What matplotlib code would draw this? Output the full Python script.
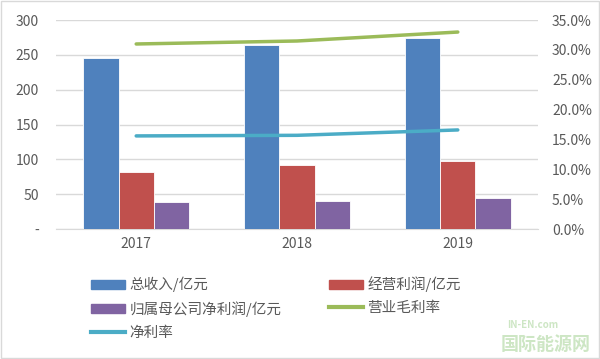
import numpy as np
import matplotlib

matplotlib.use('Agg')
import matplotlib.pyplot as plt
from matplotlib.patches import Patch
from matplotlib.lines import Line2D

plt.rcParams['font.family'] = ['Noto Sans CJK SC', 'DejaVu Sans']

years = ['2017', '2018', '2019']
revenue = [245, 264, 275]          # 总收入/亿元
op_profit = [82, 92, 98]           # 经营利润/亿元
net_profit = [39, 40, 45]          # 归属母公司净利润/亿元
gross_margin = [31.0, 31.5, 33.0]  # 营业毛利率 (%)
net_margin = [15.6, 15.7, 16.6]    # 净利率 (%)

labels = ['总收入/亿元', '经营利润/亿元', '归属母公司净利润/亿元', '营业毛利率', '净利率']
colors = ['#4F81BD', '#C0504D', '#8064A2', '#9BBB59', '#4BACC6']
txt = '#595959'

fig = plt.figure(figsize=(6, 3.59), dpi=100)
ax = fig.add_axes([0.093, 0.362, 0.804, 0.582])
ax2 = ax.twinx()

x = np.arange(len(years))
w = 0.22
for i, vals in enumerate([revenue, op_profit, net_profit]):
  ax.bar(x + (i - 1) * w, vals, w, color=colors[i], edgecolor='white', linewidth=0.6, zorder=3)

ax2.plot(x, gross_margin, color=colors[3], lw=2.5, solid_capstyle='round', zorder=4)
ax2.plot(x, net_margin, color=colors[4], lw=2.5, solid_capstyle='round', zorder=4)

ax.set_xlim(-0.5, 2.5)
ax.set_ylim(0, 300)
ax.set_yticks(range(0, 301, 50))
ax.set_yticklabels(['-'] + [str(v) for v in range(50, 301, 50)])
ax2.set_ylim(0, 35)
ax2.set_yticks(range(0, 36, 5))
ax2.set_yticklabels(['%.1f%%' % v for v in range(0, 36, 5)])
ax.set_xticks(x)
ax.set_xticklabels(years)

ax.grid(axis='y', color='#D9D9D9', lw=1, zorder=0)
ax.set_axisbelow(True)
for a in (ax, ax2):
  for s in a.spines.values():
    s.set_visible(False)
  a.tick_params(length=0, colors=txt, labelsize=10)
ax.spines['bottom'].set_visible(True)
ax.spines['bottom'].set_color('#D9D9D9')
ax.tick_params(axis='y', pad=12)
ax.tick_params(axis='x', pad=6)
ax2.tick_params(axis='y', pad=10)

handles = [Patch(color=colors[0]), Patch(color=colors[2]), Line2D([], [], color=colors[4], lw=3),
           Patch(color=colors[1]), Line2D([], [], color=colors[3], lw=3)]
hlabels = [labels[0], labels[2], labels[4], labels[1], labels[3]]
fig.legend(handles, hlabels, ncol=2, loc='upper left', bbox_to_anchor=(0.14, 0.25),
           frameon=False, fontsize=10.5, labelcolor=txt, handlelength=2.3, handleheight=0.6,
           handletextpad=0.3, columnspacing=3.3, labelspacing=0.6, borderpad=0)

# watermark
fig.text(0.93, 0.085, 'IN-EN.com', color='#CDE6C4', fontsize=7, ha='right', weight='bold')
fig.text(0.985, 0.025, '国际能源网', color='#CDE6C4', fontsize=13, ha='right', weight='bold')

border = plt.Rectangle((0.002, 0.002), 0.996, 0.994, transform=fig.transFigure,
                       fill=False, edgecolor='#D9D9D9', lw=1)
fig.patches.append(border)

plt.savefig('out.png', dpi=100)
